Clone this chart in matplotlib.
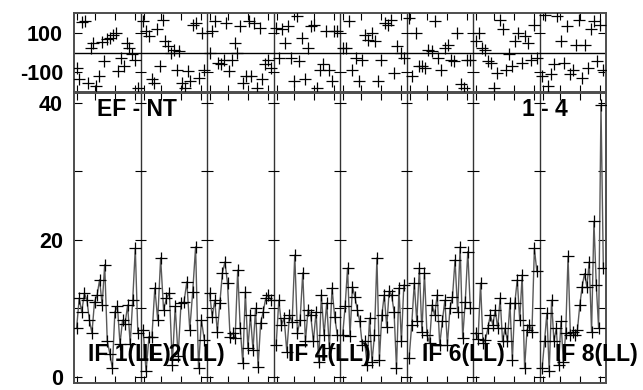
import matplotlib.pyplot as plt
import numpy as np

plt.rcParams['font.family'] = ['Liberation Sans', 'DejaVu Sans']
plt.rcParams['font.weight'] = 'bold'

# amplitude per IF panel (8 panels)
amp = [
    [7.2, 11.5, 9.5, 12.2, 11.3, 8.3, 6.4, 11.0, 11.9, 14.2, 10.5, 16.4, 5.3,
     3.4, 1.3, 9.5, 10.3, 4.8, 8.3, 7.8, 10.5, 4.8, 11.3, 18.8, 6.4],
    [6.9, 0.8, 5.9, 5.8, 13.0, 8.3, 17.4, 9.8, 11.5, 12.3, 1.8, 10.3, 3.0,
     10.8, 10.9, 13.9, 6.9, 12.4, 19.0, 1.3, 8.3, 5.4],
    [12.2, 8.8, 11.2, 6.6, 10.8, 15.2, 16.8, 13.7, 5.9, 6.4, 5.7, 15.6, 7.1,
     2.0, 12.4, 4.2, 9.0, 3.9, 10.0, 1.5, 7.9, 9.5, 11.5, 12.0, 11.2],
    [4.7, 11.2, 7.6, 8.6, 3.7, 9.0, 8.0, 17.8, 6.4, 8.3, 15.2, 5.2, 9.8,
     9.0, 5.2, 9.5, 2.2, 12.0, 6.1, 10.8, 4.2, 13.0, 8.8, 6.1],
    [6.1, 10.3, 15.9, 6.0, 13.2, 11.7, 9.8, 8.1, 4.7, 5.2, 1.8, 8.6, 2.2,
     6.1, 17.4, 2.5, 9.0, 12.0, 7.3, 12.5, 12.0, 9.5, 1.3, 13.0, 5.2, 13.4],
    [2.8, 7.6, 13.7, 8.1, 15.9, 6.6, 15.2, 6.1, 5.0, 10.5, 9.0, 12.0, 4.7,
     8.1, 11.2, 4.7, 10.0, 11.7, 17.1, 9.5, 19.0, 5.7, 11.0, 18.3, 10.0],
    [6.4, 5.6, 13.7, 4.9, 5.4, 7.1, 9.1, 7.6, 9.8, 7.1, 11.5, 5.2, 7.1,
     5.2, 10.8, 2.5, 10.8, 14.2, 8.3, 14.9, 1.3, 6.9, 7.6, 6.6, 18.8, 15.4],
    [1.3, 5.2, 9.3, 0.8, 11.2, 5.2, 7.1, 1.8, 8.1, 2.2, 6.4, 17.6, 6.1,
     6.6, 6.1, 6.9, 10.5, 13.2, 15.1, 13.2, 16.8, 6.6, 22.7, 13.4, 7.1,
     39.7, 15.9],
]

# phase per IF panel (degrees)
phase = [
    [-78, -137, 158, 160, -155, 24, 50, -172, -121, 53, -44, 70, 75, 92,
     101, -96, -27, -67, 50, 24, -10, -36, -181],
    [161, 109, 84, -137, -155, 119, -71, 169, 58, 32, -2, 15, -88, 7,
     -155, -180, -96, -147, 143, 152, -130, 101, -88],
    [-2, 109, 161, -53, -61, -36, 152, -96, -36, 50, -2, 135, -155, -121,
     161, -121, 152, -180, 127, -137, -61, -36, -78],
    [127, -27, 119, 50, 135, -27, -147, 187, -44, 75, -137, 24, 135, 143,
     -180, -88, -61, 109, -88, -147, 109, 109],
    [24, 24, 161, -88, -27, -147, -36, 92, 66, 101, 58, -147, -36, 152,
     143, 169, -104, 32, -2, -27],
    [178, -121, 101, -71, -71, -78, 15, 7, 161, -27, -88, 24, 41, -36,
     -44, 101, -164, -180, -36, -36],
    [58, 101, 24, 15, -44, -53, -180, -104, 169, 119, -88, -10, -71, 58,
     101, -53, 84, 50, -36, 143, -27],
    [-121, 193, -172, -113, -61, 187, 58, -53, 135, -113, -88, 41, 169,
     -130, 41, -78, 119, 161, -44, 143, -88],
]

if_labels = ['IF 1(LL)', 'IF 2(LL)', 'IF 4(LL)', 'IF 6(LL)', 'IF 8(LL)']
if_label_x = [0.21, 1.02, 3.22, 5.23, 7.23]

npan = len(amp)
W, H = 643, 390
fig = plt.figure(figsize=(W / 100, H / 100), dpi=100)
ax_p = fig.add_axes([74 / W, (H - 92) / H, 532 / W, 79 / H])
ax_a = fig.add_axes([74 / W, (H - 383) / H, 532 / W, 290 / H])

frac_ticks = np.array([0.05, 0.31, 0.61, 0.91])
xt = np.concatenate([i + frac_ticks for i in range(npan)])

for i in range(npan):
    xa = i + np.linspace(0.04, 0.96, len(amp[i]))
    ax_a.plot(xa, amp[i], color='0.35', lw=1.0, zorder=2)
    ax_a.plot(xa, amp[i], ls='none', marker='+', ms=8.5, mew=0.9,
              color='black', zorder=3)
    xp = i + np.linspace(0.04, 0.96, len(phase[i]))
    ax_p.plot(xp, phase[i], ls='none', marker='+', ms=8.5, mew=0.9,
              color='black', zorder=3)

for ax, yt in [(ax_a, [0, 10, 20, 30, 40]), (ax_p, [-100, 100])]:
    ax.set_xlim(0, npan)
    for b in range(1, npan):
        ax.axvline(b, color='0.2', lw=1.0, zorder=1)
        ax.hlines(yt, b - 0.09, b + 0.09, color='black', lw=0.8, zorder=1)
    for s in ax.spines.values():
        s.set_color('0.3')
        s.set_linewidth(1.4)
    ax.set_xticks(xt)
    ax.set_xticklabels([])
    ax.tick_params(axis='x', direction='in', top=True, bottom=True,
                   length=5, width=0.8)
    ax.tick_params(axis='y', direction='in', left=True, right=True,
                   length=6, width=0.8, labelsize=15.5, pad=8)

ax_a.set_ylim(-0.88, 41.46)
ax_a.set_yticks([0, 10, 20, 30, 40])
ax_a.set_yticklabels(['0', '', '20', '', '40'])
ax_p.set_ylim(-203, 203)
ax_p.set_yticks([-100, 100])
ax_p.set_yticklabels(['-100', '100'])
ax_p.axhline(0, color='black', lw=1.0, zorder=1)

ax_a.text(0.35, 39.1, 'EF - NT', fontsize=16.5, fontweight='bold',
          ha='left', va='center')
ax_a.text(6.74, 39.1, '1 - 4', fontsize=16.5, fontweight='bold',
          ha='left', va='center')
for lab, x in zip(if_labels, if_label_x):
    ax_a.text(x, 3.3, lab, fontsize=16.5, fontweight='bold',
              ha='left', va='center', zorder=4, clip_on=False)

fig.savefig('out.png', dpi=100)
plt.close(fig)
